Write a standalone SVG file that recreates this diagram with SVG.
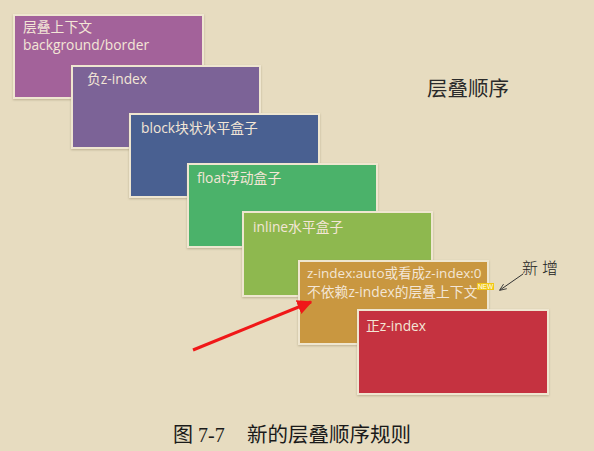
<svg xmlns="http://www.w3.org/2000/svg" width="594" height="451" viewBox="0 0 594 451">
<defs>
<style>
.box{stroke:#efe6d0;stroke-width:2}
.t{font-family:"Open Sans","Noto Sans CJK SC",sans-serif;font-size:13.8px;fill:#f3e6d6}
</style>
<filter id="sh" x="-10%" y="-10%" width="120%" height="130%"><feDropShadow dx="0" dy="1" stdDeviation="1.2" flood-color="#8a7a5a" flood-opacity="0.45"/></filter>
<marker id="ra" viewBox="0 0 10 10" refX="9" refY="5" markerWidth="5" markerHeight="5" orient="auto"><path d="M0,0 L10,5 L0,10 z" fill="#f01818"/></marker>
<marker id="ga" viewBox="0 0 10 10" refX="9" refY="5" markerWidth="7" markerHeight="7" orient="auto"><path d="M0,1 L10,5 L0,9" fill="none" stroke="#333" stroke-width="1.2"/></marker>
</defs>
<rect width="594" height="451" fill="#e7dcc0"/>
<g id="n1"><rect class="box" x="14" y="15" width="189" height="83" fill="#a3629a" filter="url(#sh)"/><text class="t" x="23" y="32">层叠上下文</text><text class="t" x="23" y="50">background/border</text></g>
<g id="n2"><rect class="box" x="72" y="66" width="188" height="82" fill="#7b6397" filter="url(#sh)"/><text class="t" x="87" y="84">负z-index</text></g>
<g id="n3"><rect class="box" x="130" y="114" width="189" height="83" fill="#4a6191" filter="url(#sh)"/><text class="t" x="141" y="133">block块状水平盒子</text></g>
<g id="n4"><rect class="box" x="188" y="164" width="189" height="83" fill="#4bb26b" filter="url(#sh)"/><text class="t" x="197" y="183">float浮动盒子</text></g>
<g id="n5"><rect class="box" x="243" y="212" width="189" height="84" fill="#8eb84f" filter="url(#sh)"/><text class="t" x="253" y="232">inline水平盒子</text></g>
<g id="n6"><rect class="box" x="299" y="261" width="189" height="83" fill="#c9973f" filter="url(#sh)"/><text class="t" x="307" y="278" style="font-size:13.5px">z-index:auto或看成z-index:0</text><text class="t" x="307" y="297">不依赖z-index的层叠上下文</text><rect x="477" y="283" width="17" height="7" fill="#f2c814"/><text x="485.5" y="289.3" font-family="Liberation Sans,sans-serif" font-size="6.5" fill="#fff" text-anchor="middle">NEW</text></g>
<g id="n7"><rect class="box" x="358" y="310" width="190" height="84" fill="#c5313f" filter="url(#sh)"/><text class="t" x="366" y="331">正z-index</text></g>
<text x="427" y="96" font-family="Noto Sans CJK SC,sans-serif" font-size="20.5" fill="#2a2a2a">层叠顺序</text>
<text x="522" y="274" font-family="Noto Sans CJK SC,sans-serif" font-size="16" font-weight="300" fill="#222" letter-spacing="4">新增</text>
<g id="connectors">
<line x1="193" y1="350" x2="311" y2="302" stroke="#f01818" stroke-width="3" marker-end="url(#ra)"/>
<line x1="523" y1="274" x2="500" y2="290" stroke="#333" stroke-width="1" marker-end="url(#ga)"/>
</g>
<text x="173" y="442" font-family="Liberation Serif,Noto Sans CJK SC,serif" font-size="20" fill="#1a1a1a">图 7-7</text>
<text x="247" y="442" font-family="Liberation Serif,Noto Sans CJK SC,serif" font-size="20.5" fill="#1a1a1a">新的层叠顺序规则</text>
</svg>
